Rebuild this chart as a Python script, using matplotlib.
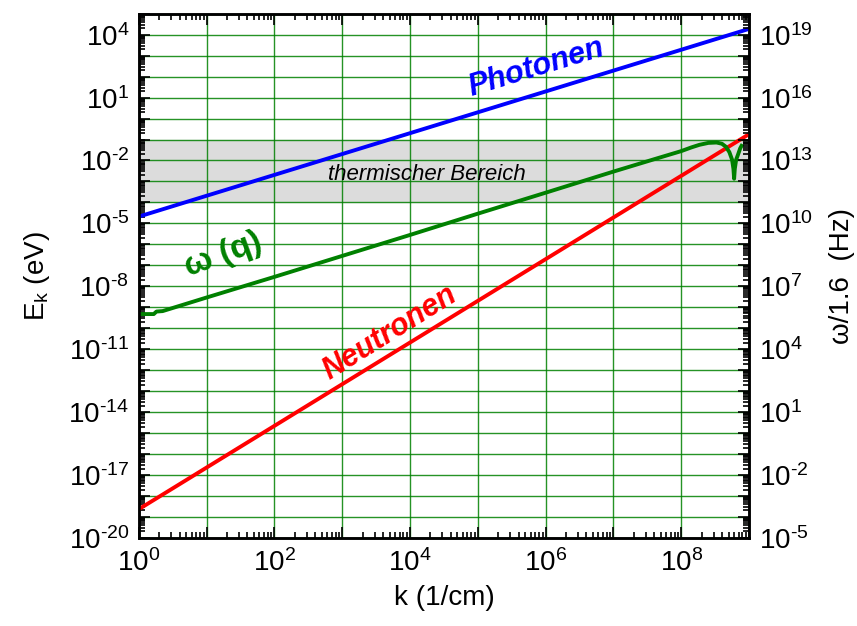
import math

import matplotlib
matplotlib.use("Agg")
import matplotlib.pyplot as plt
from matplotlib.ticker import LogLocator, NullFormatter

plt.rcParams["font.family"] = "Liberation Sans"
plt.rcParams["mathtext.fontset"] = "custom"
plt.rcParams["mathtext.rm"] = "Liberation Sans"
plt.rcParams["mathtext.it"] = "Liberation Sans:italic"
plt.rcParams["mathtext.bf"] = "Liberation Sans:bold"
plt.rcParams["mathtext.default"] = "regular"

# Photonen / Neutronen: straight lines in log-log, endpoints
k_photon = [1.0, 1.0e9]
E_photon = [2.1e-5, 1.9e4]
k_neutron = [1.0, 1.0e9]
E_neutron = [2.3e-19, 0.18]

# phonon dispersion omega(q), read point by point
k_phonon = [1.0, 1.66, 1.82, 2.24, 10, 1e2, 1e3, 1e4, 1e5, 1e6, 1e7,
            4.0e7, 1.0e8, 1.41e8, 1.86e8, 2.51e8, 3.31e8, 3.98e8, 4.57e8,
            5.13e8, 5.62e8, 5.89e8, 6.03e8, 6.17e8, 6.46e8, 6.92e8,
            7.41e8, 7.76e8]
E_phonon = [4.7e-10, 4.7e-10, 6.2e-10, 6.5e-10, 2.9e-9, 2.8e-8, 2.8e-7,
            2.8e-6, 2.9e-5, 2.9e-4, 2.95e-3, 1.15e-2, 2.8e-2, 4.2e-2,
            5.6e-2, 6.9e-2, 7.2e-2, 6.3e-2, 4.5e-2, 2.5e-2, 1.1e-2, 4.0e-3,
            1.35e-3, 4.0e-3, 1.1e-2, 2.0e-2, 3.8e-2, 5.0e-2]

# thermal energy range (eV)
thermal_band = [1e-4, 1e-1]

# exponents that carry a label
x_label_exp = [0, 2, 4, 6, 8]
y_label_exp_left = [-20, -17, -14, -11, -8, -5, -2, 1, 4]
y_label_exp_right = [-5, -2, 1, 4, 7, 10, 13, 16, 19]

GREEN = "#008000"

fig = plt.figure(figsize=(8.57, 6.26), dpi=100)
ax = fig.add_axes([0.162, 0.141, 0.712, 0.837])

ax.set_xscale("log")
ax.set_yscale("log")
ax.set_xlim(1, 1e9)
ax.set_ylim(1e-20, 1e5)

ax.axhspan(thermal_band[0], thermal_band[1], color="#dcdcdc", zorder=0)

# decade grid
ax.xaxis.set_major_locator(LogLocator(base=10, numticks=20))
ax.yaxis.set_major_locator(LogLocator(base=10, numticks=40))
ax.grid(True, which="major", color=GREEN, linewidth=1.0, alpha=0.85)
ax.set_axisbelow(True)

ax.plot(k_photon, E_photon, color="#0000ff", lw=2.8, zorder=3)
ax.plot(k_neutron, E_neutron, color="#ff0000", lw=2.8, zorder=3)
ax.plot(k_phonon, E_phonon, color=GREEN, lw=2.8, zorder=3)


def only_labels(keep):
    # "10" with a plain hyphen in the exponent, like the original
    def f(v, pos):
        n = int(round(math.log10(v)))
        if n not in keep:
            return ""
        s = str(n).replace("-", "\u2010")
        return "10$^{%s}$" % s
    return f


ax.xaxis.set_major_formatter(plt.FuncFormatter(only_labels(x_label_exp)))
ax.yaxis.set_major_formatter(plt.FuncFormatter(only_labels(y_label_exp_left)))
ax.xaxis.set_minor_locator(LogLocator(base=10, subs=range(2, 10), numticks=20))
ax.yaxis.set_minor_locator(LogLocator(base=10, subs=range(2, 10), numticks=40))
ax.xaxis.set_minor_formatter(NullFormatter())
ax.yaxis.set_minor_formatter(NullFormatter())
ax.tick_params(which="both", direction="in", top=True, right=False,
               labelsize=20, width=1.2)
ax.tick_params(which="major", length=8)
ax.tick_params(which="minor", length=4)
ax.tick_params(axis="x", pad=8)
ax.tick_params(axis="y", pad=7)
for sp in ax.spines.values():
    sp.set_linewidth(1.8)

ax2 = ax.twinx()
ax2.set_yscale("log")
ax2.set_ylim(1e-5, 1e20)
ax2.yaxis.set_major_locator(LogLocator(base=10, numticks=40))
ax2.yaxis.set_major_formatter(plt.FuncFormatter(only_labels(y_label_exp_right)))
ax2.yaxis.set_minor_locator(LogLocator(base=10, subs=range(2, 10), numticks=40))
ax2.yaxis.set_minor_formatter(NullFormatter())
ax2.tick_params(which="both", direction="in", labelsize=20, width=1.2, pad=7)
ax2.tick_params(which="major", length=8)
ax2.tick_params(which="minor", length=4)
for sp in ax2.spines.values():
    sp.set_linewidth(1.8)

ax.set_xlabel("k (1/cm)", fontsize=20, labelpad=6)
ax.set_ylabel("E$_{k}$ (eV)", fontsize=20, labelpad=12)
ax2.set_ylabel("\u03c9/1.6  (Hz)", fontsize=20, labelpad=12)

ax.text(0.652, 0.897, "Photonen", transform=ax.transAxes, color="#0000ff",
        fontsize=22, fontweight="bold", fontstyle="italic",
        rotation=17, ha="center", va="center")
ax.text(0.411, 0.391, "Neutronen", transform=ax.transAxes, color="#ff0000",
        fontsize=22, fontweight="bold", fontstyle="italic",
        rotation=32, ha="center", va="center")
ax.text(0.138, 0.540, "\u03c9 (q)", transform=ax.transAxes, color=GREEN,
        fontsize=24, fontweight="bold",
        rotation=20, ha="center", va="center")
ax.text(0.472, 0.693, "thermischer Bereich", transform=ax.transAxes,
        color="#000000", fontsize=16, fontstyle="italic",
        ha="center", va="center")

fig.savefig("out.png", dpi=100, facecolor="white")
